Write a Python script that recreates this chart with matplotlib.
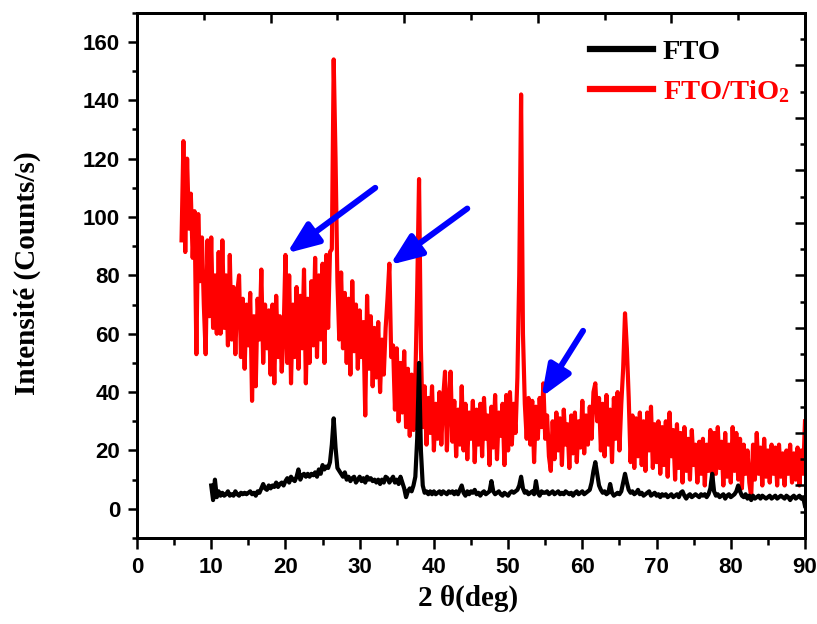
import numpy as np
import matplotlib
matplotlib.use("Agg")
import matplotlib.pyplot as plt
from matplotlib.ticker import MultipleLocator, FixedLocator, NullFormatter
from matplotlib.lines import Line2D

plt.rcParams["mathtext.fontset"] = "custom"
plt.rcParams["mathtext.rm"] = "Liberation Serif:bold"
plt.rcParams["mathtext.bf"] = "Liberation Serif:bold"
plt.rcParams["mathtext.it"] = "Liberation Serif:bold:italic"

# ---------------- data: XRD patterns, 2theta step 0.25 deg ----------------
step = 0.25

# FTO/TiO2, 2theta from 6.0 to 90.0
tio2_start = 6.0
tio2_counts = [
    92, 126, 88, 120, 96, 108, 86, 102, 53, 101, 78, 93, 70, 53, 92, 66, 93, 62, 80, 60,
    88, 60, 92, 62, 80, 56, 87, 58, 76, 53, 74, 80, 52, 72, 48, 70, 56, 74, 37, 66,
    42, 72, 58, 82, 50, 70, 55, 68, 46, 70, 43, 73, 52, 66, 47, 60, 87, 50, 80, 43,
    70, 52, 76, 48, 73, 55, 82, 43, 72, 50, 78, 56, 86, 52, 80, 58, 84, 50, 87, 62,
    88, 89, 154, 120, 78, 58, 81, 55, 74, 50, 72, 46, 78, 54, 70, 48, 68, 52, 64, 32,
    73, 48, 66, 42, 62, 45, 64, 40, 58, 46, 62, 72, 84, 52, 56, 34, 55, 30, 50, 33,
    54, 28, 48, 25, 46, 27, 44, 75, 113, 55, 28, 42, 22, 38, 26, 42, 20, 36, 24, 40,
    22, 38, 47, 20, 36, 47, 23, 37, 18, 34, 22, 42, 20, 36, 17, 33, 24, 37, 16, 34,
    22, 36, 18, 38, 24, 32, 15, 35, 21, 39, 17, 33, 25, 36, 15, 39, 20, 40, 22, 36,
    26, 45, 80, 142, 60, 36, 24, 38, 22, 37, 16, 35, 24, 38, 28, 43, 24, 32, 18, 13,
    30, 17, 33, 20, 31, 15, 34, 22, 29, 14, 32, 19, 33, 16, 30, 21, 37, 19, 32, 22,
    35, 24, 40, 43, 30, 38, 20, 36, 18, 39, 22, 34, 16, 38, 24, 40, 20, 36, 48, 67,
    55, 38, 16, 32, 14, 31, 18, 33, 15, 30, 13, 33, 20, 35, 14, 29, 16, 30, 12, 28,
    15, 30, 11, 33, 18, 27, 10, 29, 14, 26, 9, 28, 13, 24, 10, 27, 15, 22, 9, 23,
    12, 24, 8, 22, 13, 27, 10, 26, 12, 28, 14, 23, 8, 26, 11, 22, 9, 28, 13, 26,
    10, 24, 7, 22, 12, 20, 9, 4, 22, 10, 26, 12, 21, 8, 24, 11, 20, 9, 22, 12,
    21, 8, 22, 11, 19, 8, 20, 12, 22, 9, 19, 10, 21, 8, 20, 12, 30,
]

# bare FTO, 2theta from 10.0 to 90.0
fto_start = 10.0
fto_counts = [
    8, 3, 10, 4, 6, 4.5, 5.5, 4.5, 5, 6, 4.5, 5, 4.5, 6, 5, 4.5, 5.5, 5, 5.5, 5,
    5.5, 6, 5, 5.5, 4.5, 6, 5.5, 7, 8.5, 7, 6.5, 8, 7, 8, 7.5, 9, 7.5, 8.5, 9, 8,
    9.5, 10.5, 9, 11, 10, 9.5, 11, 13.5, 10, 11.5, 12, 11, 12, 11, 12, 11.5, 12.5, 11, 13.5, 12,
    15, 13.5, 14.5, 14, 16, 22, 31, 21, 14, 13, 12, 11, 12.5, 10, 11, 9.5, 10.5, 11, 9, 10,
    11, 9.5, 10.5, 9, 11, 10, 10.5, 9.5, 10, 9, 10, 8.5, 10, 9, 11, 10.5, 9, 10, 11, 9,
    10, 8.5, 11, 9, 7, 4, 6, 7, 6, 8, 11, 24, 50, 20, 8, 5.5, 6, 5, 6, 5,
    6, 5, 5.5, 6, 5, 6, 5.5, 5, 6, 5.5, 6, 5, 6, 5, 6.5, 8, 5.5, 4.5, 6, 5,
    6, 5.5, 6.5, 5, 5.5, 4.5, 5.5, 6, 5, 5.5, 6, 9.5, 6, 5, 5.5, 6, 5, 4.5, 5.5, 5,
    4.5, 5.5, 6, 5.5, 6, 6.5, 8, 11, 7, 5.5, 6, 5, 5.5, 6, 5, 9.5, 5.5, 4.5, 6, 5.5,
    5.5, 6, 5, 5.5, 6, 5, 5.5, 6, 5, 5.5, 5, 6, 5.5, 5, 5.5, 4.5, 5.5, 6, 5, 5.5,
    6, 5, 5.5, 6, 6.5, 9, 13, 16, 12, 8, 6.5, 5.5, 6, 5, 5.5, 8.5, 5.5, 4.5, 5, 5.5,
    5, 6, 9, 12, 9, 6.5, 5.5, 6, 5, 5.5, 6.5, 5, 5.5, 4.5, 5, 5.5, 6, 4.5, 5, 5.5,
    4.5, 5, 4, 5, 4.5, 5, 4, 4.5, 5, 4, 4.5, 5, 4, 5.5, 6, 4.5, 3.5, 4.5, 5, 4,
    4.5, 5, 4.5, 4, 5, 4.5, 5, 4, 5, 7, 12, 6, 4.5, 5, 4, 4.5, 5, 3.5, 4.5, 5,
    4, 4.5, 5, 6, 8, 6, 4.5, 4, 5, 3.5, 4.5, 3, 4.5, 3.5, 4, 4.5, 3.5, 4.5, 4, 3.5,
    4, 4.5, 3.5, 4, 4.5, 3.5, 4, 4.5, 4, 3.5, 4.5, 4, 3, 4, 4.5, 3.5, 4, 4.5, 3.5, 4,
    1,
]

# arrows pointing at the anatase reflections: (tail, head) in (2theta, counts)
arrow_tails = [(32.1, 110.0), (44.5, 102.9), (60.1, 61.0)]
arrow_heads = [(20.2, 87.6), (34.1, 83.6), (54.5, 38.3)]

series_labels = ["FTO", r"FTO/TiO$_{2}$"]
series_colors = ["black", "#ff0000"]

x_tio2 = tio2_start + step * np.arange(len(tio2_counts))
x_fto = fto_start + step * np.arange(len(fto_counts))

# ---------------- figure ----------------
fig = plt.figure(figsize=(8.17, 6.24), dpi=100)
ax = fig.add_axes([0.1677, 0.1378, 0.8176, 0.8418])

ax.plot(x_tio2, tio2_counts, color=series_colors[1], lw=3.0, zorder=2)
ax.plot(x_fto, fto_counts, color=series_colors[0], lw=3.0, zorder=3)

for (xt, yt), (xh, yh) in zip(arrow_tails, arrow_heads):
    ax.annotate("", xy=(xh, yh), xytext=(xt, yt),
                arrowprops=dict(arrowstyle="-|>,head_length=0.95,head_width=0.38",
                                color="#0000ff", lw=4.3, mutation_scale=20,
                                shrinkA=0, shrinkB=0),
                zorder=5)

ax.set_xlim(0, 90)
ax.set_ylim(-10, 170)
ax.xaxis.set_major_locator(MultipleLocator(10))
ax.xaxis.set_minor_locator(MultipleLocator(5))
ax.yaxis.set_major_locator(FixedLocator(np.arange(0, 161, 20)))
ax.yaxis.set_minor_locator(MultipleLocator(10))

tick_font = dict(family="Liberation Sans", weight="bold", size=16)
ax.tick_params(axis="x", which="major", direction="out", length=8, width=1.8, pad=6,
               top=False)
ax.tick_params(axis="x", which="minor", direction="out", length=5, width=1.8, top=False)
ax.tick_params(axis="y", which="major", direction="out", length=6.7, width=1.8, pad=5.5,
               right=False)
ax.tick_params(axis="y", which="minor", direction="out", length=3.4, width=1.8, right=False)
for lab in ax.get_xticklabels() + ax.get_yticklabels():
    lab.set_fontproperties(tick_font)

for sp in ax.spines.values():
    sp.set_linewidth(2.0)

label_font = dict(family="Liberation Serif", weight="bold", size=21)
ax.set_xlabel("2 \u03b8(deg)", **label_font)
ax.set_ylabel("Intensit\u00e9 (Counts/s)", **label_font)
ax.xaxis.set_label_coords(0.4955, -0.088)
ax.yaxis.set_label_coords(-0.144, 0.504)

# unlabeled tick scales on the top and right frame
ax_top = ax.twiny()
ax_top.set_xlim(0, 100)
ax_top.xaxis.set_major_locator(MultipleLocator(20))
ax_top.xaxis.set_minor_locator(MultipleLocator(10))
ax_top.tick_params(axis="x", which="major", direction="in", length=7, width=1.8,
                   labeltop=False, top=True, bottom=False)
ax_top.tick_params(axis="x", which="minor", direction="in", length=4.8, width=1.8,
                   top=True, bottom=False)
ax_top.xaxis.set_major_formatter(NullFormatter())

ax_right = ax.twinx()
ax_right.set_ylim(0, 10)
ax_right.yaxis.set_major_locator(MultipleLocator(1))
ax_right.yaxis.set_minor_locator(MultipleLocator(0.5))
ax_right.tick_params(axis="y", which="major", direction="in", length=7, width=1.8,
                     labelright=False, right=True, left=False)
ax_right.tick_params(axis="y", which="minor", direction="in", length=3.6, width=1.8,
                     right=True, left=False)
ax_right.yaxis.set_major_formatter(NullFormatter())

for a in (ax_top, ax_right):
    for sp in a.spines.values():
        sp.set_linewidth(2.0)

handles = [Line2D([], [], color=c, lw=4.5) for c in series_colors]
leg = ax.legend(handles, series_labels, loc="upper left", bbox_to_anchor=(0.678, 0.949),
                frameon=False, borderpad=0, borderaxespad=0, handlelength=2.2,
                handletextpad=0.35, labelspacing=0.45,
                prop=dict(family="Liberation Serif", weight="bold", size=20.5),
                labelcolor=series_colors)
leg.set_zorder(10)

fig.savefig("out.png", dpi=100)
